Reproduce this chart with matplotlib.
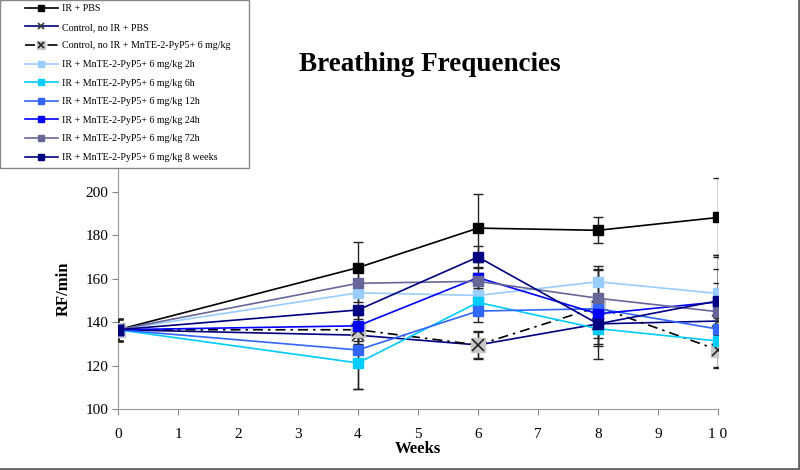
import matplotlib
matplotlib.use("Agg")
import matplotlib.pyplot as plt
from matplotlib.patches import Rectangle
from matplotlib.lines import Line2D
from matplotlib.legend_handler import HandlerTuple

plt.rcParams['font.family'] = ['Liberation Serif', 'DejaVu Serif']

# data
weeks = [0, 4, 6, 8, 10]
series_names = [
    "IR + PBS",
    "Control, no IR + PBS",
    "Control, no IR + MnTE-2-PyP5+ 6 mg/kg",
    "IR + MnTE-2-PyP5+ 6 mg/kg 2h",
    "IR + MnTE-2-PyP5+ 6 mg/kg 6h",
    "IR + MnTE-2-PyP5+ 6 mg/kg 12h",
    "IR + MnTE-2-PyP5+ 6 mg/kg 24h",
    "IR + MnTE-2-PyP5+ 6 mg/kg 72h",
    "IR + MnTE-2-PyP5+ 6 mg/kg 8 weeks",
]
ir_pbs = [136.5, 165.1, 183.3, 182.3, 188.2]
ctrl_pbs = [136.5, 134.0, 129.5, 139.2, 140.5]
ctrl_mn = [136.5, 136.5, 129.5, 147.0, 127.2]
mn_2h = [136.5, 153.5, 152.3, 158.6, 153.2]
mn_6h = [136.5, 121.2, 149.1, 137.0, 131.3]
mn_12h = [136.5, 127.2, 145.1, 146.2, 136.8]
mn_24h = [136.5, 138.3, 160.5, 143.8, 149.3]
mn_72h = [136.5, 157.9, 158.8, 151.0, 144.8]
mn_8wk = [136.5, 145.6, 170.0, 139.2, 149.8]

err_ir_pbs = [5, 12, 15.5, 6, 18]
err_ctrl_pbs = [5, 4, 6.5, 6.5, 4]
err_ctrl_mn = [5, 5, 6, 17, 8]
err_2h = [5, 4, 5, 6, 5]
err_6h = [5, 12, 5, 14, 4]
err_12h = [5, 18, 5, 5, 5]
err_24h = [5, 5, 5, 5, 15]
err_72h = [5, 6, 4, 15, 26]
err_8wk = [5, 6, 5, 10, 21]

xtick_labels = ["0", "1", "2", "3", "4", "5", "6", "7", "8", "9", "1 0"]

fig = plt.figure(figsize=(8, 4.7), dpi=100)
ax = fig.add_axes([0.1475, 0.1298, 0.75, 0.5128])

values = [ir_pbs, ctrl_pbs, ctrl_mn, mn_2h, mn_6h, mn_12h, mn_24h, mn_72h, mn_8wk]
errors = [err_ir_pbs, err_ctrl_pbs, err_ctrl_mn, err_2h, err_6h, err_12h,
          err_24h, err_72h, err_8wk]
colors = ['black', '#000080', 'black', '#99CCFF', '#00CCFF', '#3366FF',
          '#0000FF', '#666699', '#000080']

handles = []
for i, (name, vals, err, col) in enumerate(zip(series_names, values, errors, colors)):
    ax.errorbar(weeks, vals, yerr=err, fmt='none', ecolor='#222222',
                elinewidth=1, capsize=3.5, capthick=1, zorder=2 + i * 0.1)
    if i == 1:
        ln, = ax.plot(weeks, vals, color=col, lw=1.2, marker='x', ms=8,
                      mec='#333333', mew=1.2, zorder=3 + i * 0.1)
        handles.append(ln)
    elif i == 2:
        ln, = ax.plot(weeks, vals, color=col, lw=1.2, ls=(0, (6, 3, 1.5, 3)),
                      marker='s', ms=10, mfc='#C8C8C8', mec='#C8C8C8',
                      zorder=3 + i * 0.1)
        xs, = ax.plot(weeks, vals, ls='none', marker='x', ms=8, mec='#222222',
                      mew=1.2, zorder=3.05 + i * 0.1)
        handles.append((ln, xs))
    else:
        ln, = ax.plot(weeks, vals, color=col, lw=1.2, marker='s', ms=7.5,
                      mfc=col, mec=col, zorder=3 + i * 0.1)
        handles.append(ln)

ax.set_xlim(0, 10)
ax.set_ylim(100, 211)
ax.set_xticks(range(11))
ax.set_xticklabels(xtick_labels)
ax.set_yticks([100, 120, 140, 160, 180, 200])
ax.tick_params(labelsize=11, length=4, color='#888888', direction='out', pad=10)
ax.tick_params(axis='y', pad=3)
for s in ['top', 'right']:
    ax.spines[s].set_visible(False)
for s in ['left', 'bottom']:
    ax.spines[s].set_color('#999999')

ax.set_xlabel("Weeks", fontsize=12, fontweight='bold', labelpad=0)
ax.set_ylabel("RF/min", fontsize=12, fontweight='bold', labelpad=10)

fig.text(0.5375, 0.862, "Breathing Frequencies", ha='center', va='center',
         fontsize=19.5, fontweight='bold')

# legend box (drawn separately so the handles can sit indented)
fig.patches.append(Rectangle((0, 0.6426), 0.311, 0.3574, transform=fig.transFigure,
                             facecolor='white', edgecolor='#888888', lw=1,
                             zorder=9))
leg = fig.legend(handles, series_names, loc='upper left',
                 bbox_to_anchor=(0.031, 0.991), bbox_transform=fig.transFigure,
                 fontsize=7.2, handlelength=3.3, markerscale=0.6,
                 borderaxespad=0, borderpad=0.0, labelspacing=0.96,
                 handletextpad=0.4, frameon=False,
                 handler_map={tuple: HandlerTuple(ndivide=1)})
leg.set_zorder(10)

# outer chart border (right and bottom visible)
fig.lines.append(Line2D([0, 0.999, 0.999], [0.002, 0.002, 1],
                        transform=fig.transFigure, color='#666666', lw=2))

fig.savefig("out.png", dpi=100)
